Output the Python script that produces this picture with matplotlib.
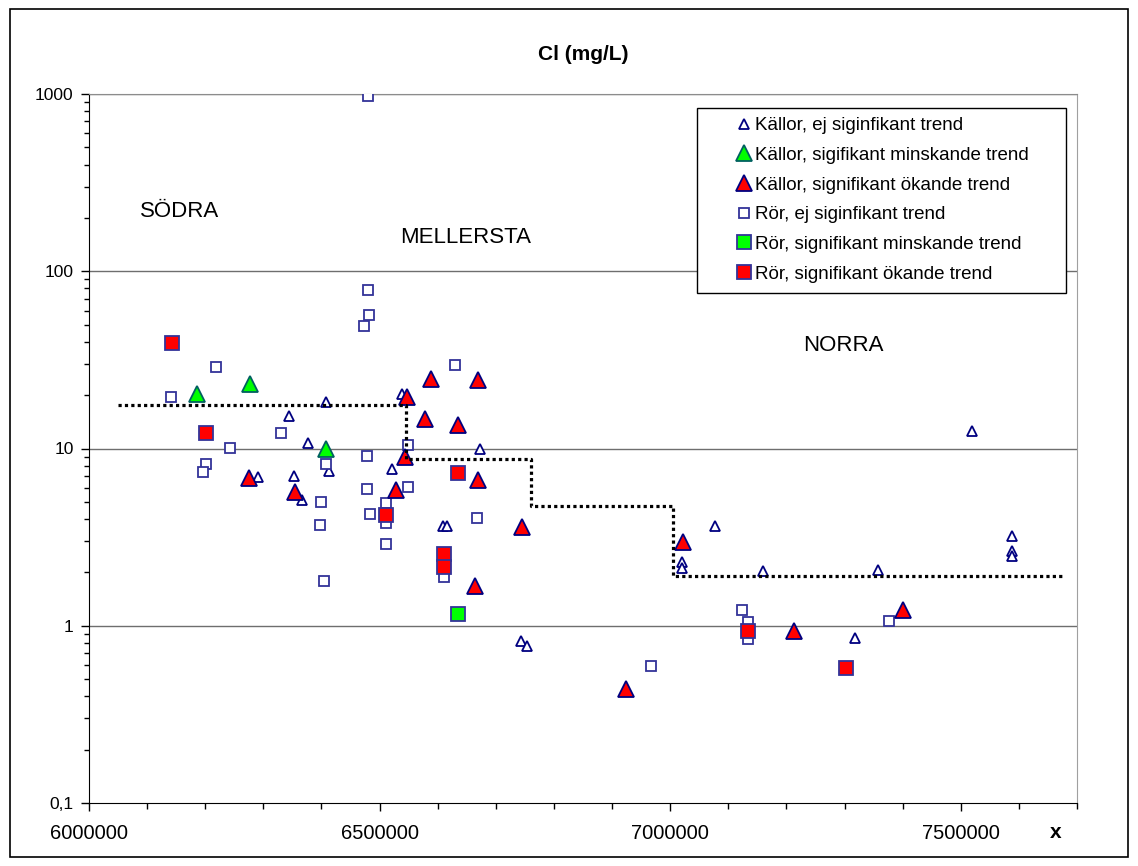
import numpy as np
import matplotlib.pyplot as plt
from matplotlib.patches import Rectangle
from matplotlib.ticker import FixedLocator, MultipleLocator, FuncFormatter, LogLocator, NullFormatter

plt.rcParams['font.family'] = ['Liberation Sans', 'DejaVu Sans']

# Källor, ej signifikant trend
kallor_ej_x = [6408000, 6344000, 6377000, 6413000, 6291000, 6353000, 6367000, 6539000,
               6522000, 6673000, 6609000, 6616000, 6744000, 6754000, 7021000, 7021000,
               7077000, 7160000, 7318000, 7358000, 7520000, 7589000, 7589000, 7589000]
kallor_ej_y = [18.2, 15.3, 10.8, 7.5, 6.9, 7.0, 5.1, 20.4,
               7.7, 10.0, 3.64, 3.64, 0.82, 0.77, 2.28, 2.11,
               3.64, 2.03, 0.85, 2.05, 12.5, 3.19, 2.63, 2.46]

# Källor, signifikant minskande trend
kallor_min_x = [6186000, 6277000, 6408000]
kallor_min_y = [20.4, 23.2, 10.0]

# Källor, signifikant ökande trend
kallor_oka_x = [6275000, 6355000, 6547000, 6589000, 6670000, 6578000, 6635000, 6544000,
                6528000, 6670000, 6745000, 6664000, 6924000, 7022000, 7213000, 7401000]
kallor_oka_y = [6.8, 5.65, 19.6, 24.8, 24.5, 14.6, 13.5, 8.9,
                5.8, 6.6, 3.59, 1.67, 0.44, 2.95, 0.93, 1.22]

# Rör, ej signifikant trend
ror_ej_x = [6480000, 6480000, 6482000, 6473000, 6630000, 6219000, 6141000, 6330000,
            6243000, 6201000, 6196000, 6408000, 6478000, 6549000, 6478000, 6549000,
            6399000, 6511000, 6484000, 6511000, 6398000, 6511000, 6404000, 6668000,
            6611000, 6967000, 7124000, 7134000, 7134000, 7377000]
ror_ej_y = [975, 78.7, 56.9, 49.3, 29.7, 29.0, 19.6, 12.3,
            10.1, 8.2, 7.4, 8.2, 9.1, 10.4, 5.9, 6.1,
            4.96, 4.9, 4.25, 3.78, 3.68, 2.88, 1.80, 4.03,
            1.88, 0.59, 1.22, 1.05, 0.84, 1.07]

# Rör, signifikant minskande trend
ror_min_x = [6635000]
ror_min_y = [1.16]

# Rör, signifikant ökande trend
ror_oka_x = [6143000, 6201000, 6511000, 6635000, 6611000, 6611000, 7134000, 7303000]
ror_oka_y = [39.6, 12.3, 4.19, 7.3, 2.53, 2.14, 0.93, 0.576]

# medianvärden per region (trappsteg)
median_x = [6050000, 6545000, 6545000, 6760000, 6760000, 7005000, 7005000, 7676000]
median_y = [17.7, 17.7, 8.67, 8.67, 4.71, 4.71, 1.90, 1.90]

y_ticks = [0.1, 1, 10, 100, 1000]
y_ticklabels = ["0,1", "1", "10", "100", "1000"]

fig = plt.figure(figsize=(11.38, 8.66), dpi=100)
ax = fig.add_axes([89/1138, 1-803/866, (1077-89)/1138, (803-94)/866])

navy = "#000080"
blue = "#333399"

ax.plot(kallor_ej_x, kallor_ej_y, ls="none", marker="^", ms=7, mfc="white", mec=navy, mew=1.3,
        label="Källor, ej siginfikant trend", zorder=3)
ax.plot(kallor_min_x, kallor_min_y, ls="none", marker="^", ms=11, mfc="#00ff00", mec="#006060", mew=1.3,
        label="Källor, sigifikant minskande trend", zorder=4)
ax.plot(kallor_oka_x, kallor_oka_y, ls="none", marker="^", ms=11, mfc="#ff0000", mec=navy, mew=1.3,
        label="Källor, signifikant ökande trend", zorder=4)
ax.plot(ror_ej_x, ror_ej_y, ls="none", marker="s", ms=6.5, mfc="white", mec=blue, mew=1.3,
        label="Rör, ej siginfikant trend", zorder=3)
ax.plot(ror_min_x, ror_min_y, ls="none", marker="s", ms=10.5, mfc="#00ff00", mec=blue, mew=1.3,
        label="Rör, signifikant minskande trend", zorder=4)
ax.plot(ror_oka_x, ror_oka_y, ls="none", marker="s", ms=10.5, mfc="#ff0000", mec=blue, mew=1.3,
        label="Rör, signifikant ökande trend", zorder=5)

ax.plot(median_x, median_y, color="black", lw=2.3, ls=(0, (1, 1)), dash_capstyle="butt", zorder=6)

ax.set_yscale("log")
ax.set_ylim(0.1, 1000)
ax.set_xlim(6000000, 7700000)

ax.yaxis.set_major_locator(FixedLocator(y_ticks))
ax.set_yticklabels(y_ticklabels)
ax.yaxis.set_minor_locator(LogLocator(base=10, subs=np.arange(2, 10)))
ax.yaxis.set_minor_formatter(NullFormatter())
ax.xaxis.set_major_locator(MultipleLocator(500000))
ax.xaxis.set_minor_locator(MultipleLocator(100000))
ax.xaxis.set_major_formatter(FuncFormatter(lambda v, p: "%d" % v if v < 7600000 else ""))

ax.tick_params(axis="y", which="major", direction="out", length=6, width=1, labelsize=12.5, pad=5)
ax.tick_params(axis="y", which="minor", direction="out", length=3.5, width=1)
ax.tick_params(axis="x", which="major", direction="out", length=6, width=1, labelsize=14.5, pad=9)
ax.tick_params(axis="x", which="minor", direction="out", length=4, width=1)

for v in [1, 10, 100, 1000]:
    ax.axhline(v, color="#6e6e6e", lw=1, zorder=1)

ax.spines["left"].set_color("black")
ax.spines["bottom"].set_color("black")
ax.spines["top"].set_color("#8c8c8c")
ax.spines["right"].set_color("#a0a0a0")

ax.text(6087000, 216, "SÖDRA", fontsize=16, ha="left", va="center")
ax.text(6535000, 156, "MELLERSTA", fontsize=16, ha="left", va="center")
ax.text(7229000, 38, "NORRA", fontsize=16, ha="left", va="center")

fig.text(583/1138, 1-55/866, "Cl (mg/L)", fontsize=15, fontweight="bold", ha="center", va="center")
fig.text(1056/1138, 1-833/866, "x", fontsize=15, fontweight="bold", ha="center", va="center")

# legend box, drawn under the legend entries
ax.add_patch(Rectangle((697/1138, 1-293/866), 369/1138, 185/866, transform=fig.transFigure,
                       facecolor="white", edgecolor="black", lw=1, zorder=8, clip_on=False))
# outer frame
fig.patches.append(Rectangle((10/1138, 1-857/866), 1118/1138, 848/866, transform=fig.transFigure,
                             fill=False, edgecolor="black", lw=1.2))

leg = ax.legend(loc="upper left", bbox_to_anchor=(722/1138, 1-102/866), bbox_transform=fig.transFigure,
                frameon=False, fontsize=13.5, handlelength=0.7, handletextpad=0.25,
                labelspacing=0.67, borderpad=0.3)
leg.set_zorder(9)

fig.savefig("out.png", dpi=100)
